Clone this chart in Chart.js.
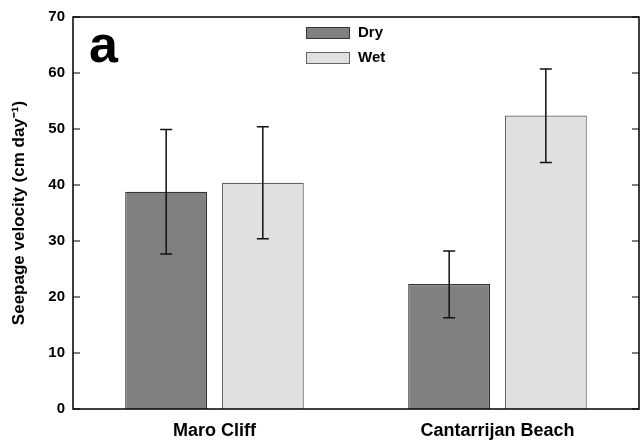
<!DOCTYPE html>
<html>
<head>
<meta charset="utf-8">
<script src="https://cdn.jsdelivr.net/npm/chart.js@4.4.1/dist/chart.umd.min.js"></script>
<style>
  html, body { margin: 0; padding: 0; background: #fff; }
  #wrap { width: 640px; height: 440px; }
</style>
</head>
<body>
<div id="wrap"><canvas id="seepage"></canvas></div>
<script>
// data
const sites = ['Maro Cliff', 'Cantarrijan Beach'];
const dryValues = [38.8, 22.3];
const dryLow = [27.7, 16.3];
const dryHigh = [49.9, 28.2];
const wetValues = [40.4, 52.4];
const wetLow = [30.4, 44.0];
const wetHigh = [50.4, 60.7];
const yTicks = [0, 10, 20, 30, 40, 50, 60, 70];

const FONT = "'Liberation Sans', Arial, sans-serif";

// error bars, frame, inward ticks, legend and panel letter
const extras = {
  id: 'extras',
  afterDatasetsDraw(chart) {
    const ctx = chart.ctx;
    const y = chart.scales.y;
    const area = chart.chartArea;
    const lows = [dryLow, wetLow];
    const highs = [dryHigh, wetHigh];

    ctx.save();
    // error bars
    ctx.strokeStyle = '#111';
    ctx.lineWidth = 1.5;
    chart.data.datasets.forEach(function(ds, i) {
      chart.getDatasetMeta(i).data.forEach(function(bar, j) {
        const top = y.getPixelForValue(highs[i][j]);
        const bot = y.getPixelForValue(lows[i][j]);
        ctx.beginPath();
        ctx.moveTo(bar.x, top); ctx.lineTo(bar.x, bot);
        ctx.moveTo(bar.x - 6, top); ctx.lineTo(bar.x + 6, top);
        ctx.moveTo(bar.x - 6, bot); ctx.lineTo(bar.x + 6, bot);
        ctx.stroke();
      });
    });

    // frame
    ctx.strokeStyle = '#000';
    ctx.lineWidth = 1.5;
    ctx.strokeRect(area.left, area.top, area.right - area.left, area.bottom - area.top);

    // ticks pointing into the plot on both sides
    ctx.lineWidth = 1.2;
    yTicks.forEach(function(v) {
      const py = y.getPixelForValue(v);
      ctx.beginPath();
      ctx.moveTo(area.left, py); ctx.lineTo(area.left + 7, py);
      ctx.moveTo(area.right, py); ctx.lineTo(area.right - 7, py);
      ctx.stroke();
    });

    // legend
    ctx.font = 'bold 15px ' + FONT;
    ctx.textBaseline = 'middle';
    ctx.textAlign = 'left';
    chart.data.datasets.forEach(function(ds, i) {
      const by = 27 + i * 25;
      ctx.fillStyle = ds.backgroundColor;
      ctx.fillRect(306, by, 44, 12);
      ctx.strokeStyle = ds.borderColor;
      ctx.lineWidth = 1;
      ctx.strokeRect(306.5, by + 0.5, 43, 11);
      ctx.fillStyle = '#000';
      ctx.fillText(ds.label, 358, by + 6);
    });

    // panel letter
    ctx.font = 'bold 52px ' + FONT;
    ctx.textBaseline = 'alphabetic';
    ctx.fillText('a', 89, 62);
    ctx.restore();
  }
};

new Chart(document.getElementById('seepage'), {
  type: 'bar',
  data: {
    labels: sites,
    datasets: [{
      label: 'Dry',
      data: dryValues,
      backgroundColor: '#808080',
      borderColor: '#333333',
      borderWidth: 1.2
    }, {
      label: 'Wet',
      data: wetValues,
      backgroundColor: '#e0e0e0',
      borderColor: '#666666',
      borderWidth: 1.2
    }]
  },
  options: {
    responsive: true,
    maintainAspectRatio: false,
    animation: false,
    layout: { padding: { top: 13, right: 1, left: 0, bottom: 0 } },
    categoryPercentage: 0.683,
    barPercentage: 0.848,
    plugins: {
      legend: { display: false },
      tooltip: { enabled: false }
    },
    scales: {
      x: {
        grid: { display: false, drawTicks: false },
        border: { display: false },
        ticks: {
          color: '#000',
          padding: 11,
          font: { family: FONT, size: 18, weight: 'bold' }
        },
        afterFit: function(scale) { scale.height = 31; }
      },
      y: {
        min: 0,
        max: 70,
        grid: { display: false, drawTicks: false },
        border: { display: false },
        ticks: {
          stepSize: 10,
          color: '#000',
          padding: 8,
          font: { family: FONT, size: 15, weight: 'bold' }
        },
        title: {
          display: true,
          text: 'Seepage velocity (cm day\u207B\u00B9)',
          color: '#000',
          padding: { top: 9, bottom: 0 },
          font: { family: FONT, size: 17, weight: 'bold' }
        },
        afterFit: function(scale) { scale.width = 73; }
      }
    }
  },
  plugins: [extras]
});
</script>
</body>
</html>
